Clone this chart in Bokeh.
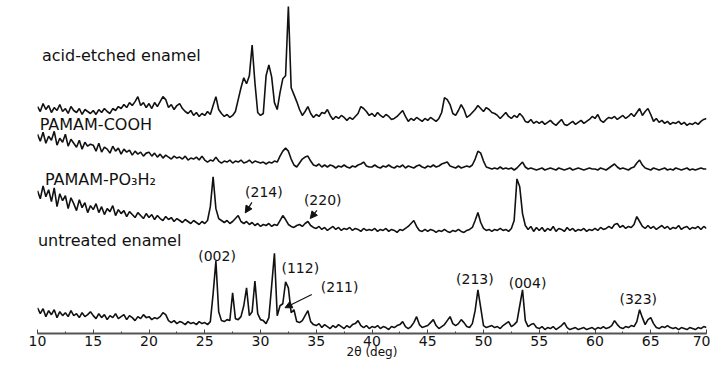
import numpy as np
from bokeh.plotting import figure
from bokeh.models import Label, Arrow, NormalHead, SingleIntervalTicker
from bokeh.embed import file_html
from bokeh.resources import INLINE

# 2-theta grid (deg), 0.25 deg steps from 10 to 70
two_theta = [round(10 + 0.25 * k, 2) for k in range(241)]

# intensities (a.u., already stacked)
acid_etched = [
    231, 226, 234, 228, 232, 225, 230, 227, 233, 226, 229, 224, 231, 227, 225, 229, 223, 228, 226, 224,
    227, 223, 228, 225, 229, 226, 224, 229, 227, 231, 229, 233, 230, 235, 232, 236, 241, 232, 235, 230,
    234, 229, 235, 231, 236, 241, 238, 230, 233, 228, 232, 234, 229, 226, 224, 227, 222, 225, 221, 224,
    222, 226, 223, 232, 241, 228, 224, 221, 223, 220, 222, 226, 238, 250, 260, 254, 262, 293, 255, 225,
    222, 224, 262, 273, 261, 235, 228, 245, 259, 262, 332, 250, 243, 236, 228, 222, 226, 231, 224, 220,
    223, 221, 225, 224, 228, 222, 218, 221, 219, 222, 220, 217, 220, 218, 221, 224, 231, 229, 226, 222,
    224, 221, 225, 222, 220, 223, 221, 218, 219, 221, 224, 227, 221, 216, 219, 217, 220, 218, 216, 219,
    217, 220, 218, 216, 219, 225, 240, 238, 233, 224, 222, 227, 233, 228, 220, 222, 225, 228, 232, 229,
    226, 230, 228, 225, 224, 222, 219, 222, 225, 221, 219, 222, 220, 224, 221, 216, 215, 218, 214, 216,
    214, 216, 213, 215, 217, 214, 212, 215, 218, 213, 212, 214, 216, 213, 215, 217, 214, 216, 218, 221,
    219, 223, 217, 215, 218, 220, 219, 221, 218, 220, 222, 219, 221, 224, 221, 225, 229, 222, 226, 229,
    223, 216, 219, 215, 217, 214, 216, 213, 215, 214, 216, 213, 215, 212, 214, 213, 215, 213, 216, 218, 219,
]
pamam_cooh = [
    203, 196, 205, 194, 201, 197, 206, 192, 199, 195, 203, 191, 198, 194, 190, 197, 188, 195, 191, 193,
    192, 186, 194, 185, 190, 188, 184, 191, 186, 189, 183, 188, 185, 187, 182, 186, 183, 185, 181, 184,
    185, 181, 184, 180, 183, 179, 182, 180, 178, 181, 179, 180, 178, 181, 177, 179, 178, 180, 177, 181,
    177, 175, 177, 176, 180, 176, 174, 176, 175, 177, 174, 176, 175, 177, 174, 175, 177, 174, 176, 175,
    174, 175, 173, 175, 174, 176, 175, 181, 186, 189, 186, 178, 172, 170, 174, 178, 180, 181, 176, 172,
    171, 173, 170, 172, 170, 172, 171, 169, 171, 170, 172, 170, 169, 171, 170, 172, 173, 175, 171, 170,
    170, 172, 170, 169, 171, 170, 172, 170, 169, 171, 170, 172, 169, 171, 170, 169, 171, 172, 170, 169,
    171, 170, 172, 170, 171, 173, 174, 175, 171, 170, 169, 171, 169, 170, 171, 170, 172, 178, 186, 184,
    176, 170, 169, 168, 169, 168, 170, 168, 169, 168, 169, 167, 169, 172, 175, 170, 168, 169, 168, 167,
    168, 169, 167, 168, 169, 168, 167, 169, 168, 167, 168, 169, 167, 168, 169, 168, 167, 168, 169, 168,
    168, 167, 169, 168, 167, 169, 171, 173, 170, 168, 169, 168, 167, 169, 170, 174, 177, 172, 169, 168,
    167, 169, 168, 167, 168, 169, 167, 168, 167, 169, 168, 167, 168, 169, 167, 168, 167, 168, 169, 168, 168,
]
pamam_po3h2 = [
    146, 138, 151, 140, 147, 135, 149, 130, 143, 136, 141, 128, 139, 133, 126, 137, 129, 134, 124, 131,
    127, 133, 124, 130, 122, 128, 125, 131, 121, 127, 123, 126, 120, 125, 122, 119, 124, 121, 118, 123,
    119, 122, 117, 121, 118, 116, 120, 117, 119, 115, 118, 116, 114, 117, 115, 113, 116, 114, 112, 115,
    113, 116, 130, 160, 128, 118, 116, 114, 116, 113, 115, 118, 121, 115, 113, 115, 112, 114, 111, 113,
    110, 112, 111, 113, 110, 112, 111, 116, 121, 117, 112, 110, 109, 111, 112, 110, 113, 115, 111, 109,
    108, 110, 107, 109, 106, 108, 110, 107, 109, 106, 108, 107, 109, 106, 108, 107, 105, 108, 106, 107,
    106, 108, 105, 107, 106, 108, 105, 107, 106, 104, 107, 106, 108, 110, 113, 116, 110, 106, 105, 107,
    105, 107, 106, 104, 106, 105, 107, 105, 104, 106, 105, 107, 105, 104, 106, 107, 109, 116, 124, 114,
    108, 106, 107, 105, 107, 106, 108, 106, 107, 105, 108, 116, 158, 150, 123, 111, 107, 110, 105, 109,
    106, 109, 105, 108, 106, 110, 105, 108, 107, 105, 109, 106, 108, 105, 107, 106, 108, 105, 107, 106,
    108, 106, 109, 107, 108, 110, 108, 112, 113, 109, 111, 108, 110, 109, 112, 120, 115, 110, 108, 111,
    108, 110, 107, 109, 111, 108, 110, 107, 109, 108, 111, 107, 109, 110, 107, 109, 108, 110, 107, 110, 108,
]
untreated = [
    28, 22, 27, 19, 25, 21, 26, 18, 24, 20, 23, 19, 25, 20, 22, 18, 23, 19, 21, 24,
    20, 17, 22, 18, 21, 16, 20, 18, 22, 17, 19, 21, 16, 20, 18, 15, 19, 17, 21, 18,
    19, 16, 18, 17, 19, 23, 21, 15, 13, 15, 12, 14, 13, 11, 14, 12, 13, 11, 14, 12,
    13, 11, 14, 42, 75, 24, 15, 14, 16, 15, 43, 17, 16, 19, 30, 48, 20, 24, 55, 22,
    16, 15, 12, 18, 50, 83, 20, 30, 32, 54, 48, 23, 26, 14, 13, 15, 20, 25, 14, 11,
    10, 12, 8, 11, 9, 7, 10, 8, 11, 9, 7, 10, 8, 11, 12, 15, 10, 8, 10, 7,
    9, 8, 10, 7, 9, 8, 6, 9, 8, 10, 11, 14, 9, 7, 9, 13, 19, 11, 8, 9,
    10, 13, 16, 10, 7, 9, 11, 15, 19, 12, 10, 12, 16, 13, 9, 8, 12, 25, 46, 28,
    10, 8, 9, 10, 8, 9, 7, 10, 12, 14, 9, 11, 14, 30, 46, 15, 9, 11, 12, 8,
    7, 9, 6, 8, 7, 9, 6, 8, 10, 13, 8, 6, 7, 8, 6, 7, 8, 6, 7, 8,
    6, 8, 7, 9, 7, 8, 10, 15, 11, 8, 7, 9, 8, 10, 9, 14, 26, 18, 11, 16,
    18, 12, 8, 7, 9, 8, 10, 8, 7, 8, 6, 8, 7, 6, 8, 7, 6, 8, 7, 9, 8,
]

series_names = ["acid-etched enamel", "PAMAM-COOH", "PAMAM-PO\u2083H\u2082", "untreated  enamel"]
series_label_x = [10.4, 10.2, 10.67, 10.04]
series_label_y = [283, 213, 157, 96]

peak_labels = ["(002)", "(112)", "(211)", "(214)", "(220)", "(213)", "(004)", "(323)"]
peak_label_x = [26.1, 33.57, 37.1, 30.3, 35.58, 49.23, 53.95, 63.88]
peak_label_y = [80, 68.5, 48.5, 144.5, 136.3, 57.2, 53, 37]

# arrows: (x_start, y_start, x_end, y_end)
arrow_x0 = [34.6, 29.23, 35.06]
arrow_y0 = [41.3, 134.3, 126.3]
arrow_x1 = [32.2, 28.63, 34.46]
arrow_y1 = [28, 123.7, 118]

FONT = "DejaVu Sans"

p = figure(width=710, height=361, x_range=(10, 70), y_range=(2, 338),
           output_backend="svg", toolbar_location=None, y_axis_location=None,
           min_border_left=37, min_border_right=4, min_border_top=0, min_border_bottom=20)
p.outline_line_color = None
p.grid.visible = False
p.background_fill_color = "white"
p.border_fill_color = "white"

for ys in (acid_etched, pamam_cooh, pamam_po3h2, untreated):
    m = min(len(two_theta), len(ys))
    p.line(two_theta[:m], ys[:m], line_color="#111111", line_width=1.6)

xa = p.xaxis[0]
xa.ticker = SingleIntervalTicker(interval=5, num_minor_ticks=2)
xa.axis_line_color = "#555555"
xa.axis_line_width = 2
xa.major_tick_in = 4
xa.major_tick_out = 0
xa.minor_tick_in = 2
xa.minor_tick_out = 0
xa.major_tick_line_color = "#444444"
xa.minor_tick_line_color = "#444444"
xa.major_label_text_font = FONT
xa.major_label_text_font_size = "14px"
xa.major_label_text_color = "#111111"
xa.major_label_standoff = 2
xa.axis_label = "2\u03b8 (deg)"
xa.axis_label_text_font = FONT
xa.axis_label_text_font_size = "12px"
xa.axis_label_text_font_style = "normal"
xa.axis_label_text_color = "#111111"
xa.axis_label_standoff = -4

for t, x, y in zip(series_names, series_label_x, series_label_y):
    p.add_layout(Label(x=x, y=y, text=t, text_font=FONT, text_font_size="16px",
                       text_align="left", text_baseline="middle", text_color="#111111"))

for t, x, y in zip(peak_labels, peak_label_x, peak_label_y):
    p.add_layout(Label(x=x, y=y, text=t, text_font=FONT, text_font_size="14px",
                       text_align="center", text_baseline="middle", text_color="#111111"))

for x0, y0, x1, y1 in zip(arrow_x0, arrow_y0, arrow_x1, arrow_y1):
    p.add_layout(Arrow(end=NormalHead(size=7, fill_color="#111111", line_color="#111111"),
                       x_start=x0, y_start=y0, x_end=x1, y_end=y1,
                       line_color="#111111", line_width=1.2))

open("out.html", "w").write(file_html(p, INLINE))
